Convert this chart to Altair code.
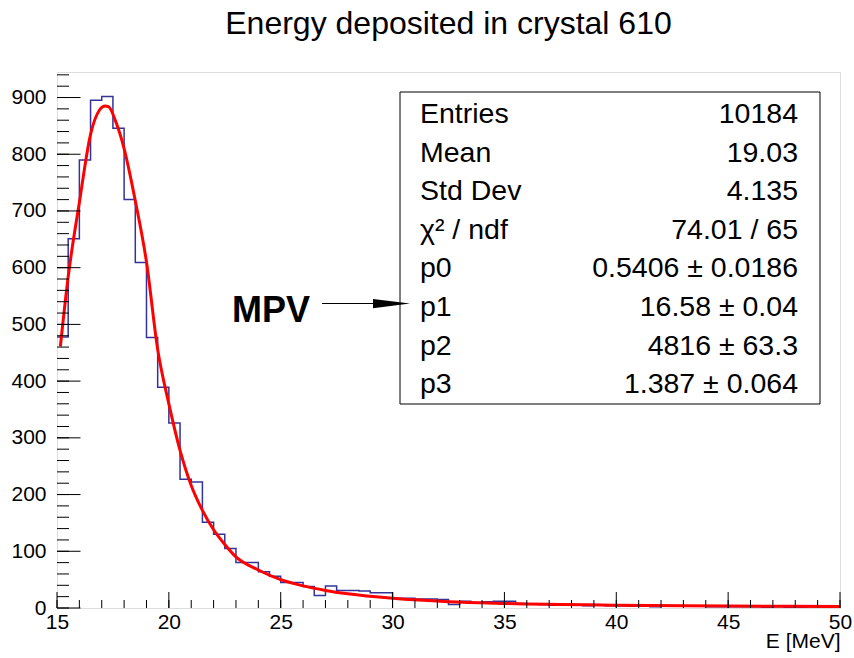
import altair as alt
import pandas as pd
import numpy as np

# ---------------- data ----------------
bin_width = 0.5
counts = [478, 651, 790, 895, 902, 846, 720, 609, 477, 389,
          326, 227, 222, 151, 130, 105, 80, 80, 64, 56,
          45, 45, 38, 22, 39, 31, 31, 30, 27, 27,
          17, 17, 16, 16, 15, 6, 12, 9, 11, 12,
          12, 8, 7, 6, 5, 6, 5, 4, 5, 4,
          4, 3, 3, 2, 3, 3, 3, 4, 2, 2,
          2, 2, 2, 1, 2, 1, 1, 2, 1, 3]
bin_lo = [15 + bin_width * i for i in range(len(counts))]

fit_x = [15.15, 15.5, 16.0, 16.5, 16.9, 17.15, 17.3, 17.65, 18.0, 18.5, 19.0,
         19.5, 20.0, 20.5, 21.0, 21.5, 22.0, 22.5, 23.0, 24.0, 25.0, 26.0,
         27.0, 28.0, 30.0, 32.5, 35.0, 40.0, 45.0, 50.0]
fit_y = [461, 584, 715, 835, 878, 885, 884, 855, 810, 718, 610,
         456, 360, 278, 216, 172, 138, 112, 90, 67, 50, 39,
         31, 25, 17, 11, 8, 5, 3.5, 2.5]

x_major = [15, 20, 25, 30, 35, 40, 45, 50]
x_minor = [v for v in range(15, 51)]
y_major = [0, 100, 200, 300, 400, 500, 600, 700, 800, 900]
y_minor = [v for v in range(0, 941, 20)]

stat_labels = ["Entries", "Mean", "Std Dev", "\u03c7\u00b2 / ndf", "p0", "p1", "p2", "p3"]
stat_values = ["10184", "19.03", "4.135", "74.01 / 65", "0.5406 \u00b1 0.0186",
               "16.58 \u00b1 0.04", "4816 \u00b1 63.3", "1.387 \u00b1 0.064"]

# ---------------- layout ----------------
W, H = 783, 536
FONT = "Liberation Sans"

hist_df = pd.DataFrame({"E": bin_lo + [50.0], "N": counts + [counts[-1]]})
fit_df = pd.DataFrame({"E": fit_x, "N": fit_y})
stats_df = pd.DataFrame({"row": list(range(len(stat_labels))),
                         "label": stat_labels, "value": stat_values})

xscale = alt.Scale(domain=[15, 50], nice=False, zero=False)
yscale = alt.Scale(domain=[0, 945], nice=False, zero=True)

xaxis = alt.Axis(values=x_major, ticks=False, domain=False, grid=False,
                 labelFontSize=21, labelFont=FONT, labelColor="black",
                 labelPadding=3, labelFlush=False,
                 title="E [MeV]", titleAnchor="end", titleAlign="right",
                 titleBaseline="alphabetic", titleY=39, titleFontSize=21,
                 titleFont=FONT, titleFontWeight="normal", titleColor="black")
yaxis = alt.Axis(values=y_major, ticks=False, domain=False, grid=False,
                 labelFontSize=21, labelFont=FONT, labelColor="black",
                 labelPadding=11, title=None)

def X(field):
    return alt.X(field, scale=xscale, axis=xaxis, title="E [MeV]")

def Y(field):
    return alt.Y(field, scale=yscale, axis=yaxis, title=None)

hist = alt.Chart(hist_df).mark_line(
    interpolate="step-after", color="#333399", strokeWidth=1.5, clip=True
).encode(x=X("E:Q"), y=Y("N:Q"))

fit = alt.Chart(fit_df).mark_line(
    interpolate="monotone", color="#ff0000", strokeWidth=3, clip=True
).encode(x=X("E:Q"), y=Y("N:Q"))

xmaj = alt.Chart(pd.DataFrame({"E": x_major})).mark_rule(color="black", strokeWidth=1).encode(
    x=X("E:Q"), y=alt.value(H), y2=alt.value(H - 16))
xmin = alt.Chart(pd.DataFrame({"E": x_minor})).mark_rule(color="black", strokeWidth=1).encode(
    x=X("E:Q"), y=alt.value(H), y2=alt.value(H - 8))
ymaj = alt.Chart(pd.DataFrame({"N": y_major})).mark_rule(color="black", strokeWidth=1).encode(
    y=Y("N:Q"), x=alt.value(0), x2=alt.value(23.5))
ymin = alt.Chart(pd.DataFrame({"N": y_minor})).mark_rule(color="black", strokeWidth=1).encode(
    y=Y("N:Q"), x=alt.value(0), x2=alt.value(12))

box = alt.Chart(pd.DataFrame({"a": [0]})).mark_rect(
    fill="white", stroke="black", strokeWidth=1
).encode(x=alt.value(343), x2=alt.value(763), y=alt.value(20), y2=alt.value(332))

stat_l = alt.Chart(stats_df).transform_calculate(
    py="51 + datum.row * 38.6"
).mark_text(align="left", baseline="alphabetic", fontSize=28.5, font=FONT, color="black").encode(
    x=alt.value(363), y=alt.Y("py:Q", scale=None), text="label:N")
stat_v = alt.Chart(stats_df).transform_calculate(
    py="51 + datum.row * 38.6"
).mark_text(align="right", baseline="alphabetic", fontSize=28.5, font=FONT, color="black").encode(
    x=alt.value(741), y=alt.Y("py:Q", scale=None), text="value:N")

mpv_text = alt.Chart(pd.DataFrame({"t": ["MPV"]})).mark_text(
    align="left", baseline="alphabetic", fontSize=36, font=FONT, fontWeight="bold", color="black"
).encode(x=alt.value(175), y=alt.value(250), text="t:N")
arrow_line = alt.Chart(pd.DataFrame({"a": [0]})).mark_rule(color="black", strokeWidth=1.2).encode(
    x=alt.value(265), x2=alt.value(320), y=alt.value(231.5))
arrow_head = alt.Chart(pd.DataFrame({"a": [0]})).mark_point(
    shape="M-1,-0.25L1,0L-1,0.25Z", size=1369, filled=True, color="black", opacity=1
).encode(x=alt.value(334.5), y=alt.value(231.5))

chart = alt.layer(
    hist, fit, xmaj, xmin, ymaj, ymin, box, stat_l, stat_v, mpv_text, arrow_line, arrow_head
).properties(
    width=W, height=H,
    title=alt.TitleParams("Energy deposited in crystal 610", fontSize=32, font=FONT,
                          fontWeight="normal", color="black", anchor="middle", offset=31),
    padding={"left": 57, "top": 72, "right": 14, "bottom": 50},
    autosize=alt.AutoSizeParams(type="none"),
).configure_view(stroke="black", strokeWidth=1.2).configure(background="white")

chart.save("out.html", embed_options={"renderer": "svg", "actions": False})
